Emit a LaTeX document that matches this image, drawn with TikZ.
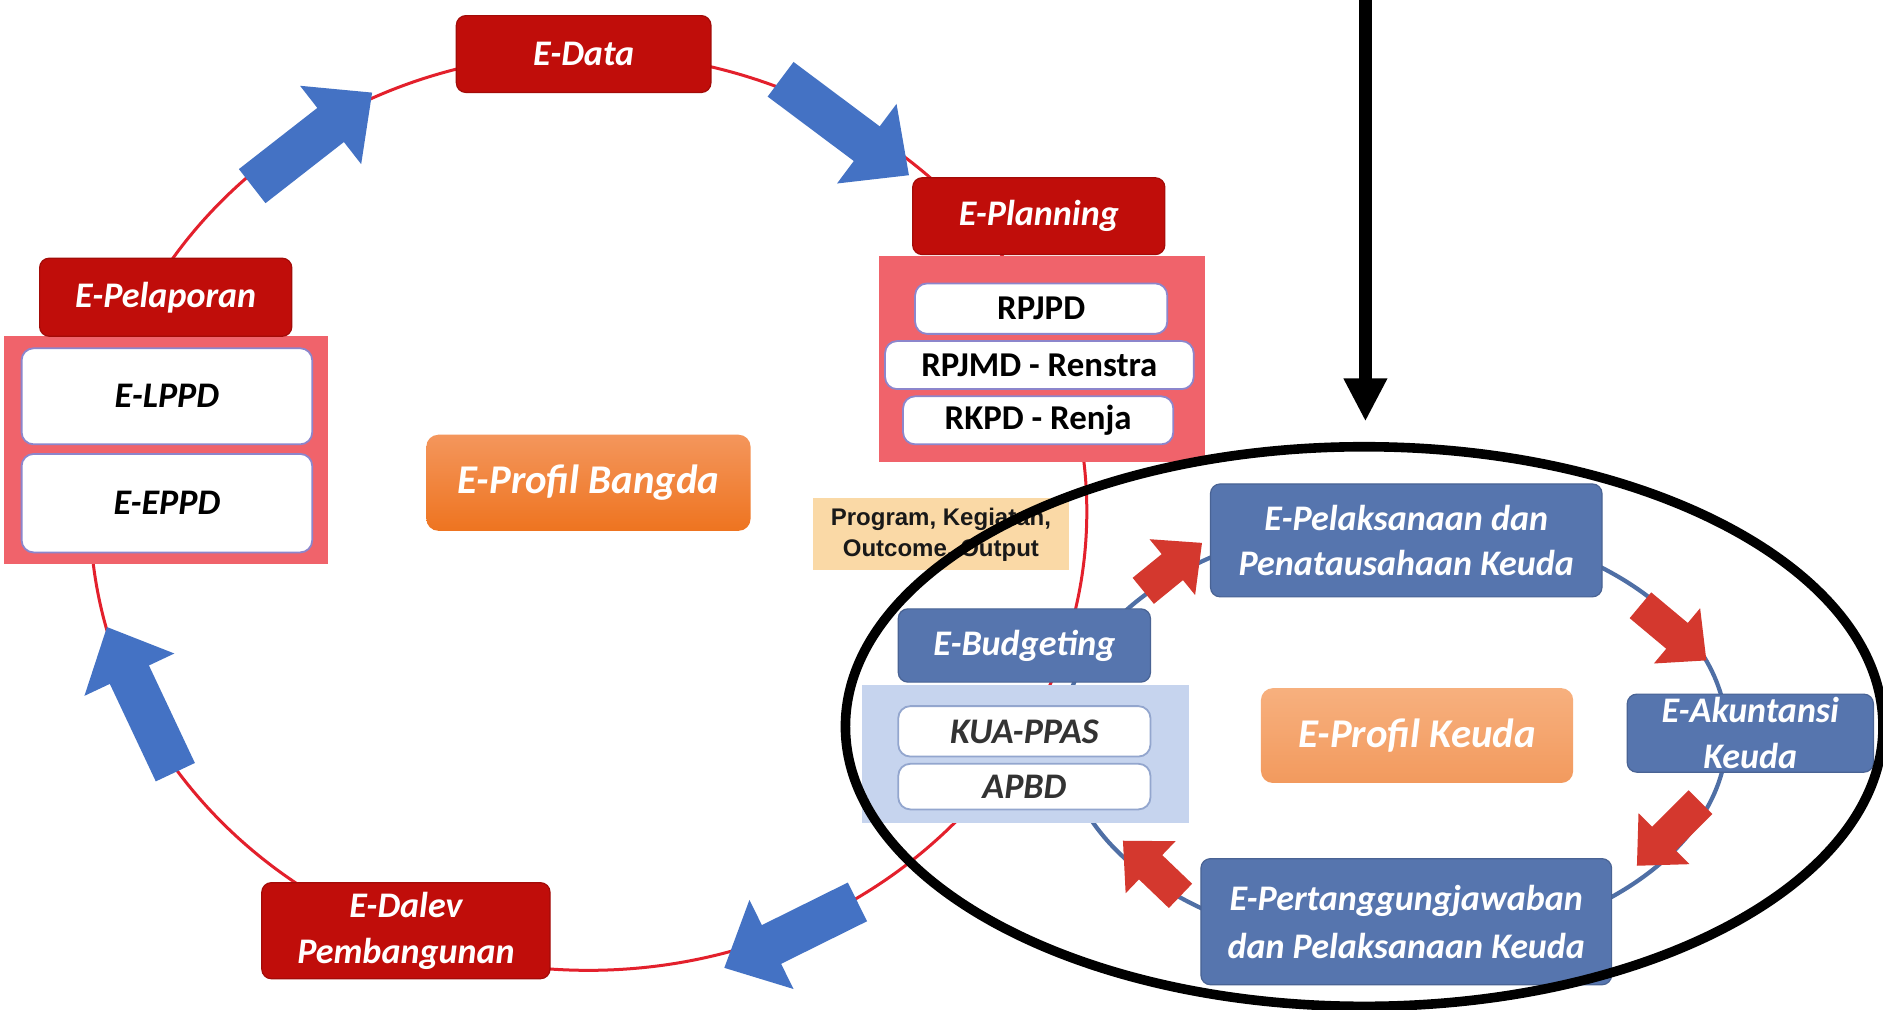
\documentclass[tikz,border=0pt]{standalone}
\usepackage{fontspec}
\setmainfont{Carlito}
\newfontfamily\arialfont{Liberation Sans}
\usetikzlibrary{arrows.meta}
\definecolor{dred}{HTML}{C00D0A}
\definecolor{salmon}{HTML}{F0636B}
\definecolor{ringred}{HTML}{E3202C}
\definecolor{bluearr}{HTML}{4472C4}
\definecolor{steel}{HTML}{5675AE}
\definecolor{steelring}{HTML}{4F6FA5}
\definecolor{lightblue}{HTML}{C6D4EE}
\definecolor{redarr}{HTML}{D4382E}
\definecolor{beige}{HTML}{FAD9A6}
\definecolor{subborder}{HTML}{8C86CC}
\definecolor{subborderb}{HTML}{93A6CE}
\definecolor{orangeT}{HTML}{F4965C}
\definecolor{orangeB}{HTML}{EE7420}
\definecolor{orangeLT}{HTML}{F7B07E}
\definecolor{orangeLB}{HTML}{F29A5E}
\tikzset{
  hdr/.style={rounded corners=8pt, fill=dred, draw=dred!85!black, line width=1pt,
    text=white, font=\fontsize{30}{38}\selectfont\bfseries\itshape, align=center,
    inner sep=0pt, outer sep=0pt},
  bhdr/.style={hdr, fill=steel, draw=steel!85!black},
  panel/.style={fill=salmon, draw=none, inner sep=0pt, outer sep=0pt},
  bpanel/.style={fill=lightblue, draw=none, inner sep=0pt, outer sep=0pt},
  subbox/.style={rounded corners=10pt, fill=white, draw=subborder, line width=1.5pt,
    text=black, font=\fontsize{30}{34}\selectfont\bfseries\itshape, inner sep=0pt, outer sep=0pt},
  subup/.style={subbox, font=\fontsize{29}{34}\selectfont\bfseries},
  subblue/.style={subbox, draw=subborderb, text=black!80},
  orangebox/.style={rounded corners=10pt, top color=orangeT, bottom color=orangeB, draw=none,
    text=white, font=\fontsize{34}{38}\selectfont\bfseries\itshape, inner sep=0pt, outer sep=0pt},
  lorangebox/.style={orangebox, top color=orangeLT, bottom color=orangeLB},
  notebox/.style={fill=beige, draw=none, text=black!90, align=center,
    font=\fontsize{20}{26}\selectfont\arialfont\bfseries, inner sep=0pt, outer sep=0pt},
  bluearrow/.style={draw=bluearr, line width=36pt, -{Triangle[width=80pt,length=44pt]}},
  redarrow/.style={draw=redarr, line width=28pt, -{Triangle[width=58pt,length=32pt]}},
  blackarrow/.style={draw=black, line width=11pt, -{Triangle[width=34pt,length=36pt]}}
}
\begin{document}
\begin{tikzpicture}[x=1pt,y=-1pt]
\useasboundingbox[fill=white] (0,0) rectangle (1568,841);

% big red ring
\draw[ringred, line width=2.5pt] (490,426) ellipse [x radius=415pt, y radius=382pt];

% left / top / planning boxes
\node[hdr, minimum width=212pt, minimum height=64pt] (edata) at (486,45) {E-Data};
\node[panel, minimum width=271pt, minimum height=172pt] (planpanel) at (867.5,299) {};
\node[hdr, minimum width=210pt, minimum height=64pt] (eplan) at (865,180) {E-Planning};
\node[subup, minimum width=210pt, minimum height=42pt] (rpjpd) at (867,257) {RPJPD};
\node[subup, minimum width=257pt, minimum height=40pt] (rpjmd) at (865.5,304) {RPJMD - Renstra};
\node[subup, minimum width=225pt, minimum height=40pt] (rkpd) at (864.5,350) {RKPD - Renja};

\node[panel, minimum width=270pt, minimum height=190pt] (pelpanel) at (138,375) {};
\node[hdr, minimum width=210pt, minimum height=65pt] (epel) at (138,247.5) {E-Pelaporan};
\node[subbox, minimum width=242pt, minimum height=80pt] (elppd) at (139,330) {E-LPPD};
\node[subbox, minimum width=242pt, minimum height=82pt] (eeppd) at (139,419) {E-EPPD};

\node[orangebox, minimum width=270pt, minimum height=80pt] (bangda) at (490,402) {E-Profil Bangda};
\node[notebox, minimum width=213pt, minimum height=60pt] (prog) at (783.5,445) {Program, Kegiatan,\\Outcome, Output};
\node[hdr, minimum width=240pt, minimum height=80pt] (edalev) at (338,775) {E-Dalev\\Pembangunan};

% blue arrows on the big ring
\coordinate (b1s) at (210,155); \coordinate (b1e) at (310,77);
\coordinate (b2s) at (650,66);  \coordinate (b2e) at (757,146);
\coordinate (b3s) at (714,751); \coordinate (b3e) at (603,806);
\coordinate (b4s) at (146,643); \coordinate (b4e) at (89,522);
\draw[bluearrow] (b1s) -- (b1e);
\draw[bluearrow] (b2s) -- (b2e);
\draw[bluearrow] (b3s) -- (b3e);
\draw[bluearrow] (b4s) -- (b4e);

% small steel ring
\draw[steelring, line width=3.5pt] (1162,612) ellipse [x radius=276pt, y radius=178pt];

\node[bpanel, minimum width=272pt, minimum height=115pt] (budgpanel) at (854,627.5) {};
\node[bhdr, minimum width=210pt, minimum height=61pt] (ebudg) at (853,537.5) {E-Budgeting};
\node[subblue, minimum width=210pt, minimum height=42pt] (kua) at (853,609) {KUA-PPAS};
\node[subblue, minimum width=210pt, minimum height=38pt] (apbd) at (853,655) {APBD};

\node[bhdr, minimum width=326pt, minimum height=94pt] (pelaks) at (1171,450) {E-Pelaksanaan dan\\Penatausahaan Keuda};
\node[lorangebox, minimum width=260pt, minimum height=79pt] (keuda) at (1180,612.5) {E-Profil Keuda};
\node[bhdr, minimum width=205pt, minimum height=65pt] (akun) at (1457.5,610.5) {E-Akuntansi\\Keuda};
\node[bhdr, minimum width=342pt, minimum height=105pt, font=\fontsize{30}{40}\selectfont\bfseries\itshape] (pertang) at (1171,767.5) {E-Pertanggungjawaban\\dan Pelaksanaan Keuda};

% red arrows on the small ring
\coordinate (r1s) at (952,492);  \coordinate (r1e) at (1001,452);
\coordinate (r2s) at (1366,504); \coordinate (r2e) at (1421,550);
\coordinate (r3s) at (1416,668); \coordinate (r3e) at (1363,721);
\coordinate (r4s) at (983,746);  \coordinate (r4e) at (935,700);
\draw[redarrow] (r1s) -- (r1e);
\draw[redarrow] (r2s) -- (r2e);
\draw[redarrow] (r3s) -- (r3e);
\draw[redarrow] (r4s) -- (r4e);

% black highlight ellipse and arrow
\draw[black, line width=8pt] (1136,605) ellipse [x radius=432pt, y radius=233pt];
\coordinate (ktop) at (1137,-5);
\coordinate (ktip) at (1137,351);
\draw[blackarrow] (ktop) -- (ktip);
\end{tikzpicture}
\end{document}
